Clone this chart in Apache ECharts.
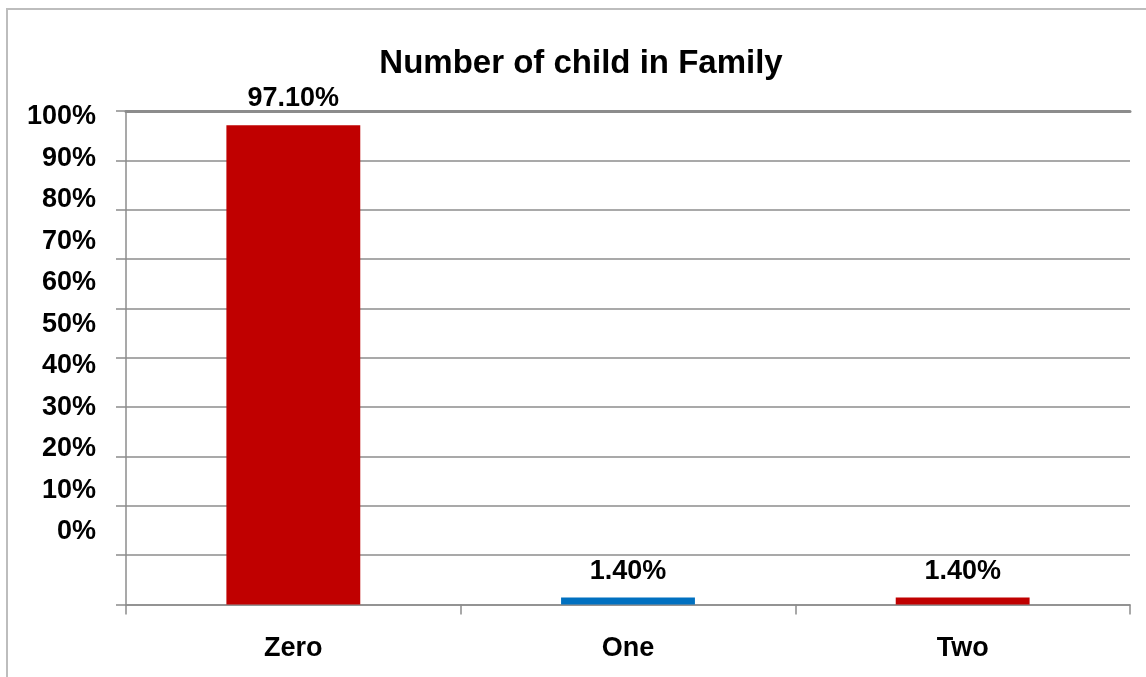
<!DOCTYPE html>
<html>
<head>
<meta charset="utf-8">
<script src="https://cdn.jsdelivr.net/npm/echarts@6/dist/echarts.min.js"></script>
<style>
  html, body { margin: 0; padding: 0; background: #fff; }
  #main { width: 1146px; height: 677px; }
</style>
</head>
<body>
<div id="main"></div>
<script>
// data
const categories = ['Zero', 'One', 'Two']
const values = [97.1, 1.4, 1.4]
const barColors = ['#C00000', '#0070C0', '#C00000']
const yMin = 0
const yMax = 100
const yStep = 10

const font = 'Liberation Sans'
const gridColor = '#8c8c8c'

var myChart = echarts.init(document.getElementById('main'))

var option = {
  animation: false,
  title: {
    text: 'Number of child in Family',
    left: 576,
    top: 42,
    textAlign: 'center',
    textStyle: { fontFamily: font, fontWeight: 'bold', fontSize: 33, color: '#000' }
  },
  graphic: [
    // light frame of the chart area (cropped at right / bottom)
    {
      type: 'rect',
      shape: { x: 7, y: 9, width: 1200, height: 720 },
      style: { fill: null, stroke: '#bdbdbd', lineWidth: 2 },
      silent: true
    }
  ],
  grid: [
    // plot area
    { left: 126, top: 111, right: 16, bottom: 72.5 },
    // the value labels sit on their own, squeezed scale
    { left: 126, top: 117, right: 16, bottom: 145 }
  ],
  xAxis: [
    {
      type: 'category',
      gridIndex: 0,
      data: categories,
      axisLine: { lineStyle: { color: gridColor, width: 1.5 } },
      axisTick: { show: true, length: 10, lineStyle: { color: gridColor, width: 1.5 } },
      axisLabel: {
        margin: 31,
        color: '#000',
        fontFamily: font,
        fontWeight: 'bold',
        fontSize: 27
      }
    },
    {
      // heavy line on top of the plot area
      type: 'category',
      gridIndex: 0,
      position: 'top',
      data: categories,
      axisLine: { lineStyle: { color: gridColor, width: 3 } },
      axisTick: { show: false },
      axisLabel: { show: false }
    },
    { type: 'value', gridIndex: 1, show: false }
  ],
  yAxis: [
    {
      type: 'value',
      gridIndex: 0,
      min: yMin,
      max: yMax,
      interval: yStep,
      axisLine: { show: true, lineStyle: { color: gridColor, width: 1.5 } },
      axisTick: { show: true, length: 10, lineStyle: { color: gridColor, width: 1.5 } },
      axisLabel: { show: false },
      splitLine: { show: true, lineStyle: { color: gridColor, width: 1.5 } }
    },
    {
      type: 'value',
      gridIndex: 1,
      min: yMin,
      max: yMax,
      interval: yStep,
      axisLine: { show: false },
      axisTick: { show: false },
      splitLine: { show: false },
      axisLabel: {
        margin: 30,
        formatter: '{value}%',
        color: '#000',
        fontFamily: font,
        fontWeight: 'bold',
        fontSize: 27
      }
    }
  ],
  series: [
    {
      type: 'bar',
      xAxisIndex: 0,
      yAxisIndex: 0,
      barWidth: '40%',
      data: values.map((v, i) => ({ value: v, itemStyle: { color: barColors[i] } })),
      label: {
        show: true,
        position: 'top',
        distance: 13,
        formatter: p => p.value.toFixed(2) + '%',
        color: '#000',
        fontFamily: font,
        fontWeight: 'bold',
        fontSize: 27
      }
    }
  ]
}

myChart.setOption(option)
</script>
</body>
</html>
